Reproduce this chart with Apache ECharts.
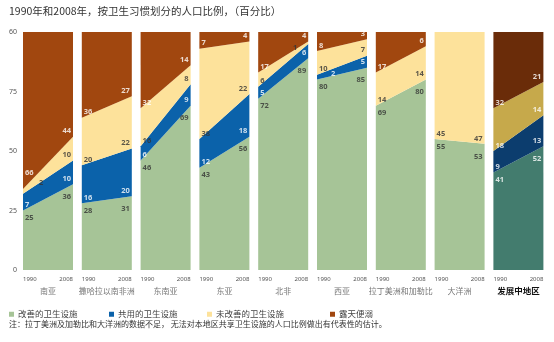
<!DOCTYPE html>
<html><head><meta charset="utf-8">
<script src="https://cdn.jsdelivr.net/npm/echarts@6/dist/echarts.min.js"></script>
<style>html,body{margin:0;padding:0;background:#fff}#c{width:554px;height:342px}</style>
</head><body><div id="c"></div>
<script>
const years = ['1990', '2008'];
const regions = ['南亚','撒哈拉以南非洲','东南亚','东亚','北非','西亚','拉丁美洲和加勒比','大洋洲','发展中地区'];
const seriesNames = ['改善的卫生设施','共用的卫生设施','未改善的卫生设施','露天便溺'];
// values per region: [1990, 2008]
const improved   = [[25,36],[28,31],[46,69],[43,56],[72,89],[80,85],[69,80],[55,53],[41,52]];
const shared     = [[7,10],[16,20],[6,9],[12,18],[5,6],[2,5],[null,null],[null,null],[9,13]];
const unimproved = [[2,10],[20,22],[16,8],[38,22],[6,1],[10,7],[14,14],[45,47],[18,14]];
const openDef    = [[66,44],[36,27],[32,14],[7,4],[17,4],[8,3],[17,6],[0,0],[32,21]];
const yTicks = [0,25,50,75,100];
const yTickLabels = ['0','25','50','75','60'];
const title = '1990年和2008年，按卫生习惯划分的人口比例，（百分比）';
const note = '注：拉丁美洲及加勒比和大洋洲的数据不足， 无法对本地区共享卫生设施的人口比例做出有代表性的估计。';

// styling
const colors = ['#a6c497','#0b62aa','#fde29b','#a1470f'];
const devColors = ['#437c6e','#0c3d6e','#c6a94b','#6a2c09'];
const labelNudge = { '0-2-0':[14,-5], '0-3-0':[0,-11], '4-2-1':[-9,9], '5-1-0':[12,0] };

const layers = [improved, shared, unimproved, openDef];
const grids=[], xAxes=[], yAxes=[], series=[];
const gLeft = 23, gStep = 58.8, gW = 50, gTop = 32, gH = 238;

regions.forEach((reg, i) => {
  const isDev = i === regions.length - 1;
  const cols = isDev ? devColors : colors;
  grids.push({left: gLeft + i*gStep, top: gTop, width: gW, height: gH});
  xAxes.push({
    type:'category', gridIndex:i, data: years, boundaryGap:false,
    axisLine:{show:false}, axisTick:{show:false},
    axisLabel:{fontSize:6, color:'#555', margin:6, alignMinLabel:'left', alignMaxLabel:'right', fontFamily:'Noto Sans'},
    name: reg, nameLocation:'middle', nameGap:17,
    nameTextStyle: isDev ? {fontSize:8.5, color:'#111', fontWeight:'bold', fontFamily:'Noto Sans CJK SC'}
                         : {fontSize:8, color:'#777', fontFamily:'Noto Sans CJK SC'}
  });
  yAxes.push({
    type:'value', gridIndex:i, min:0, max:100, interval:25,
    axisLine:{show:false}, axisTick:{show:false}, splitLine:{show:false},
    axisLabel:{show: i===0, fontSize:7, color:'#555', margin:6, fontFamily:'Noto Sans',
      formatter: v => yTickLabels[yTicks.indexOf(v)]}
  });
  layers.forEach((arr, j) => {
    series.push({
      type:'line', name: seriesNames[j], xAxisIndex:i, yAxisIndex:i, stack:'s'+i,
      data: arr[i].map(v => v == null ? 0 : v),
      symbol:'none', lineStyle:{width:0}, color: cols[j],
      areaStyle:{color: cols[j], opacity:1}, silent:true, z:2
    });
  });
  // labels: positioned at band boundaries computed from the data
  const lblData = [];
  layers.forEach((arr, j) => {
    [0,1].forEach(k => {
      const v = arr[i][k];
      if (v == null || v === 0) return;
      let bottom = 0;
      for (let m = 0; m < j; m++) bottom += (layers[m][i][k] || 0);
      const isGreen = j === 0;
      const anchor = isGreen ? v : bottom;
      const nudge = labelNudge[i+'-'+j+'-'+k] || [0,0];
      const dark = !isDev && (j === 0 || j === 2);
      lblData.push({
        value:[k, anchor],
        label:{
          show:true, formatter: String(v),
          position: isGreen ? 'bottom' : 'top', distance: isGreen ? (k === 0 ? 3 : 8) : 1,
          align: k === 0 ? 'left' : 'right',
          offset: [(k === 0 ? 2 : -2) + nudge[0], nudge[1]],
          color: dark ? '#333' : '#fff', fontSize:7.5, fontWeight:'bold', fontFamily:'Noto Sans'
        }
      });
    });
  });
  series.push({
    type:'scatter', name:'lbl'+i, xAxisIndex:i, yAxisIndex:i, data: lblData,
    symbolSize:1, itemStyle:{color:'rgba(0,0,0,0)'}, silent:true, z:5
  });
});

const legends = seriesNames.map((n, j) => ({
  data:[n], left:[9,109,207,330][j], top:310, padding:0, itemWidth:5, itemHeight:5, icon:'rect',
  itemGap:0, selectedMode:false,
  textStyle:{fontSize:8.5, color:'#444', fontFamily:'Noto Sans CJK SC', padding:[0,0,0,-1]}
}));

const chart = echarts.init(document.getElementById('c'), null, {renderer:'canvas'});
chart.setOption({
  animation:false,
  title:[
    {text:title, left:9, top:6, padding:0, textStyle:{fontSize:10.5, color:'#333', fontWeight:'normal', fontFamily:'Noto Sans CJK SC'}},
    {text:note, left:9, top:320, padding:0, textStyle:{fontSize:8, color:'#333', fontWeight:'normal', fontFamily:'Noto Sans CJK SC'}}
  ],
  legend: legends,
  grid: grids, xAxis: xAxes, yAxis: yAxes, series: series
});
</script></body></html>
